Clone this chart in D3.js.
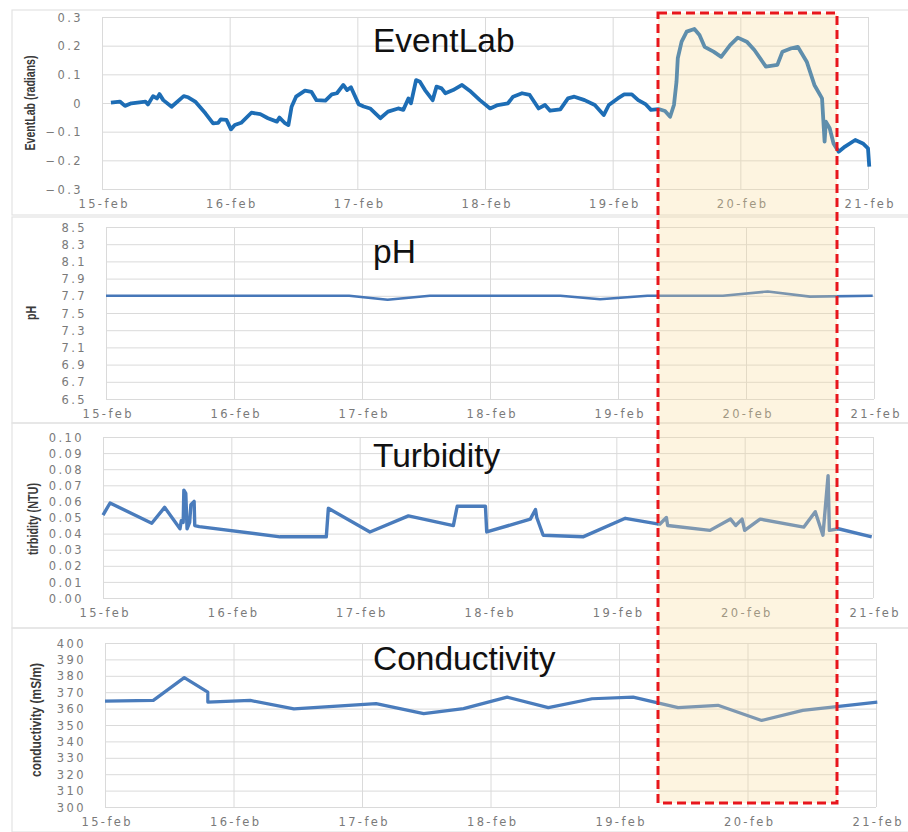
<!DOCTYPE html>
<html>
<head>
<meta charset="utf-8">
<title>EventLab vs water quality</title>
<script src="https://d3js.org/d3.v7.min.js"></script>
<style>
  body { margin: 0; background: #fff; }
  .tick text { font-family: "DejaVu Sans", sans-serif; font-size: 11.5px; fill: #7a7a7a; letter-spacing: 2.4px; }
  .grid line { stroke: #dadada; stroke-width: 1; }
  .grid path { display: none; }
</style>
</head>
<body>
<div id="chart"></div>
<script>
// x tick labels (day 0 = 15-feb)
const dayLabels = ["15-feb", "16-feb", "17-feb", "18-feb", "19-feb", "20-feb", "21-feb"];

// EventLab (radians)
const eventDays = [0.07, 0.14, 0.18, 0.23, 0.34, 0.36, 0.40, 0.43, 0.45, 0.48, 0.545, 0.64, 0.675, 0.73, 0.81, 0.87, 0.91, 0.93, 0.975,
  1.01, 1.04, 1.09, 1.17, 1.24, 1.30, 1.37, 1.39, 1.43, 1.46, 1.485, 1.52, 1.59, 1.64, 1.68, 1.75, 1.80, 1.84, 1.89, 1.92, 1.95,
  2.01, 2.05, 2.10, 2.18, 2.24, 2.32, 2.36, 2.40, 2.42, 2.46, 2.49, 2.53, 2.59, 2.62, 2.66, 2.69, 2.75, 2.82, 2.88, 2.96,
  3.04, 3.10, 3.18, 3.22, 3.29, 3.35, 3.42, 3.47, 3.51, 3.59, 3.65, 3.70, 3.78, 3.86, 3.93, 3.97, 4.04, 4.09, 4.15, 4.20, 4.26,
  4.30, 4.36, 4.41, 4.45, 4.48, 4.50, 4.51, 4.54, 4.58, 4.64, 4.68, 4.72, 4.79, 4.85, 4.92, 4.98, 5.05, 5.11, 5.20, 5.29, 5.33,
  5.40, 5.45, 5.52, 5.58, 5.64, 5.66, 5.67, 5.70, 5.73, 5.77, 5.82, 5.90, 5.96, 6.00, 6.01];
const eventValues = [0.001, 0.005, -0.01, -0.001, 0.005, -0.005, 0.024, 0.016, 0.031, 0.01, -0.013, 0.024, 0.02, 0.005, -0.036, -0.071, -0.069, -0.057, -0.059,
  -0.092, -0.077, -0.069, -0.034, -0.039, -0.053, -0.065, -0.051, -0.069, -0.077, -0.013, 0.022, 0.043, 0.039, 0.01, 0.008, 0.03, 0.034, 0.063, 0.045, 0.055,
  -0.004, -0.012, -0.019, -0.053, -0.03, -0.019, -0.024, 0.016, -0.001, 0.08, 0.074, 0.045, 0.01, 0.057, 0.051, 0.034, 0.045, 0.063, 0.043, 0.01,
  -0.019, -0.007, -0.001, 0.022, 0.034, 0.028, -0.019, -0.007, -0.027, -0.022, 0.016, 0.022, 0.01, -0.007, -0.042, -0.007, 0.016, 0.03, 0.03, 0.01, -0.005,
  -0.024, -0.021, -0.028, -0.048, -0.007, 0.074, 0.156, 0.214, 0.249, 0.258, 0.237, 0.196, 0.179, 0.161, 0.202, 0.228, 0.214, 0.185, 0.127, 0.133, 0.179,
  0.191, 0.196, 0.144, 0.063, 0.016, -0.135, -0.065, -0.088, -0.141, -0.17, -0.152, -0.129, -0.141, -0.158, -0.222];

// pH
const phDays = [0, 1.9, 2.2, 2.53, 3.55, 3.86, 4.23, 4.82, 5.17, 5.5, 5.99];
const phValues = [7.7, 7.7, 7.655, 7.7, 7.7, 7.66, 7.7, 7.7, 7.75, 7.69, 7.7];

// turbidity (NTU)
const turbDays = [0, 0.055, 0.38, 0.48, 0.60, 0.61, 0.625, 0.63, 0.645, 0.655, 0.675, 0.685, 0.71, 0.715, 0.75, 1.38, 1.74, 1.756, 2.08, 2.38,
  2.73, 2.76, 2.98, 2.99, 3.33, 3.37, 3.38, 3.43, 3.74, 4.07, 4.32, 4.34, 4.39, 4.40, 4.73, 4.89, 4.93, 4.98, 5.00, 5.12, 5.46, 5.55, 5.61, 5.65, 5.66, 5.73, 5.99];
const turbValues = [0.0515, 0.059, 0.0464, 0.0563, 0.043, 0.048, 0.047, 0.067, 0.065, 0.043, 0.047, 0.058, 0.060, 0.045, 0.0443, 0.038, 0.038, 0.0557, 0.041, 0.051,
  0.045, 0.057, 0.057, 0.041, 0.049, 0.055, 0.050, 0.039, 0.038, 0.0495, 0.046, 0.046, 0.050, 0.045, 0.042, 0.049, 0.045, 0.049, 0.042, 0.049, 0.044, 0.0536, 0.039, 0.076, 0.042, 0.043, 0.038];

// conductivity (mS/m)
const condDays = [0, 0.376, 0.617, 0.80, 0.80, 1.13, 1.47, 2.11, 2.48, 2.79, 3.13, 3.45, 3.79, 4.11, 4.46, 4.77, 5.11, 5.43, 6.01];
const condValues = [364.5, 365, 378.9, 370, 364, 365, 359.8, 363, 356.9, 360, 367, 360.6, 366, 367, 360.6, 362, 352.8, 358.9, 364];

const W = 908, H = 832;
const svg = d3.select("#chart").append("svg").attr("width", W).attr("height", H);

const panels = [
  { title: "EventLab", ty: 52, frame: [10, 215], x: [102, 868], y: [189, 17], dom: [-0.3, 0.3], ticks: d3.range(-0.3, 0.31, 0.1),
    fmt: d => (Math.abs(d) < 1e-9 ? "0" : d3.format(".1f")(d)), label: "EventLab (radians)", lx: 29, ly: 103, llen: 95,
    days: eventDays, vals: eventValues, color: "#1d6db5", width: 3.8 },
  { title: "pH", ty: 263, frame: [217, 423], x: [106, 874], y: [399, 227], dom: [6.5, 8.5], ticks: d3.range(6.5, 8.51, 0.2),
    fmt: d3.format(".1f"), label: "pH", lx: 30, ly: 313, llen: 14,
    days: phDays, vals: phValues, color: "#4677b8", width: 2.6 },
  { title: "Turbidity", ty: 467, frame: [423, 628], x: [103, 873], y: [598, 437], dom: [0, 0.1], ticks: d3.range(0, 0.1001, 0.01),
    fmt: d3.format(".2f"), label: "tirbidity (NTU)", lx: 32, ly: 519, llen: 72,
    days: turbDays, vals: turbValues, color: "#4a7cbc", width: 3.4 },
  { title: "Conductivity", ty: 670, frame: [628, 832], x: [105, 876], y: [807, 643], dom: [300, 400], ticks: d3.range(300, 401, 10),
    fmt: d3.format("d"), label: "conductivity (mS/m)", lx: 35, ly: 720, llen: 114,
    days: condDays, vals: condValues, color: "#4a7cbc", width: 3.2 }
];

panels.forEach(function(p) {
  // panel frame
  svg.append("rect")
    .attr("x", 12).attr("y", p.frame[0])
    .attr("width", 900).attr("height", p.frame[1] - p.frame[0])
    .attr("fill", "none").attr("stroke", "#e3e3e3").attr("stroke-width", 1.2);

  let xScale = d3.scaleLinear().domain([0, 6]).range(p.x);
  let yScale = d3.scaleLinear().domain(p.dom).range(p.y);
  let h = p.y[0] - p.y[1];
  let w = p.x[1] - p.x[0];

  // horizontal grid + y labels
  let yAxis = d3.axisLeft(yScale).tickValues(p.ticks).tickSize(-w).tickPadding(19).tickFormat(p.fmt);
  svg.append("g").attr("class", "grid")
    .attr("transform", "translate(" + p.x[0] + ",0)")
    .call(yAxis)
    .selectAll(".tick text").attr("dy", "0.36em");

  // vertical grid + x labels
  let xAxis = d3.axisBottom(xScale).tickValues(d3.range(0, 7)).tickSize(-h).tickPadding(11)
    .tickFormat((d, i) => dayLabels[i]);
  svg.append("g").attr("class", "grid")
    .attr("transform", "translate(0," + p.y[0] + ")")
    .call(xAxis)
    .selectAll(".tick text").attr("dx", "0.15em");

  // data line
  let pts = p.days.map((d, i) => [d, p.vals[i]]);
  let line = d3.line().x(d => xScale(d[0])).y(d => yScale(d[1]));
  svg.append("path")
    .datum(pts)
    .attr("d", line)
    .attr("fill", "none")
    .attr("stroke", p.color)
    .attr("stroke-width", p.width)
    .attr("stroke-linejoin", "round");

  // panel title
  svg.append("text")
    .attr("x", 373).attr("y", p.ty)
    .attr("font-family", "Liberation Sans, Arial, sans-serif")
    .attr("font-size", "33.5px")
    .attr("fill", "#111")
    .text(p.title);

  // y axis title
  svg.append("text")
    .attr("transform", "translate(" + p.lx + "," + p.ly + ") rotate(-90)")
    .attr("text-anchor", "middle")
    .attr("dominant-baseline", "central")
    .attr("font-family", "Liberation Sans Narrow, Liberation Sans, sans-serif")
    .attr("font-weight", "bold")
    .attr("font-size", "15px")
    .attr("fill", "#3a3a3a")
    .attr("textLength", p.llen)
    .attr("lengthAdjust", "spacingAndGlyphs")
    .text(p.label);
});

// highlighted event window
svg.append("rect")
  .attr("x", 658).attr("y", 13).attr("width", 179).attr("height", 790)
  .attr("fill", "#f8db98").attr("fill-opacity", 0.3);
svg.append("rect")
  .attr("x", 658).attr("y", 13).attr("width", 179).attr("height", 790)
  .attr("fill", "none")
  .attr("stroke", "#e8161c")
  .attr("stroke-width", 3)
  .attr("stroke-dasharray", "9,5");
</script>
</body>
</html>
